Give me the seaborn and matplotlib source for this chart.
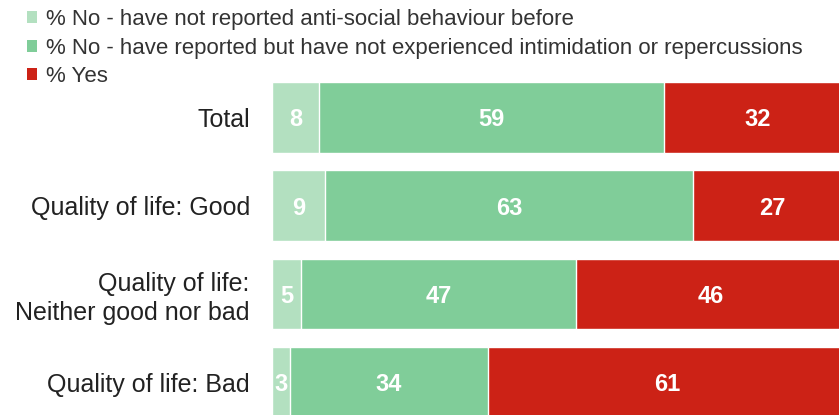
import matplotlib
matplotlib.use("Agg")
import matplotlib.pyplot as plt
import seaborn as sns
import pandas as pd
import numpy as np
from matplotlib.patches import Patch

categories = ["Total", "Quality of life: Good", "Quality of life:\nNeither good nor bad", "Quality of life: Bad"]
not_reported = [8, 9, 5, 3]
reported_no_intim = [59, 63, 47, 34]
yes = [32, 27, 46, 61]
series_names = [
    "% No - have not reported anti-social behaviour before",
    "% No - have reported but have not experienced intimidation or repercussions",
    "% Yes",
]
colors = ["#b3e0c0", "#80cd99", "#cc2216"]

sns.set_theme(style="white")
plt.rcParams["font.family"] = ["Liberation Sans", "DejaVu Sans"]

fig = plt.figure(figsize=(8.39, 4.15), dpi=100)
W, H = 839, 415
left_px, right_px = 272, 857
top_px, bot_px = 73.2, 426.4
ax = fig.add_axes([left_px / W, (H - bot_px) / H, (right_px - left_px) / W, (bot_px - top_px) / H])

df = pd.DataFrame({
    "cat": categories,
    "a": np.array(not_reported, dtype=float),
    "b": np.array(reported_no_intim, dtype=float),
    "c": np.array(yes, dtype=float),
})
df["c1"] = df["a"]
df["c2"] = df["a"] + df["b"]
df["c3"] = df["a"] + df["b"] + df["c"]

for col, color in [("c3", colors[2]), ("c2", colors[1]), ("c1", colors[0])]:
    sns.barplot(data=df, x=col, y="cat", orient="h", color=color, width=0.8,
                edgecolor="white", linewidth=1.0, saturation=1, ax=ax, order=categories)

ax.set_xlim(0, 100)
ax.set_ylim(3.5, -0.5)
ax.set_xlabel("")
ax.set_ylabel("")
ax.set_xticks([])
for s in ax.spines.values():
    s.set_visible(False)
ax.tick_params(axis="y", length=0, pad=16, labelsize=18, labelcolor="#222222")
for lbl in ax.get_yticklabels():
    lbl.set_horizontalalignment("right")
    lbl.set_verticalalignment("center_baseline")
    lbl.set_multialignment("right")
    lbl.set_linespacing(1.25)

for i in range(len(categories)):
    starts = [0, df["c1"][i], df["c2"][i]]
    vals = [df["a"][i], df["b"][i], df["c"][i]]
    for st, v in zip(starts, vals):
        ax.text(st + v / 2, i, f"{int(v)}", ha="center", va="center_baseline", color="white",
                fontsize=17, fontweight="bold")

handles = [Patch(facecolor=c, edgecolor="none") for c in colors]
fig.legend(handles, series_names, loc="upper left", bbox_to_anchor=(0.014, 1.015),
           frameon=False, handlelength=0.45, handleheight=0.45, handletextpad=0.4,
           labelspacing=0.33, fontsize=16, labelcolor="#333333", borderaxespad=0.3)

fig.savefig("out.png", dpi=100)
